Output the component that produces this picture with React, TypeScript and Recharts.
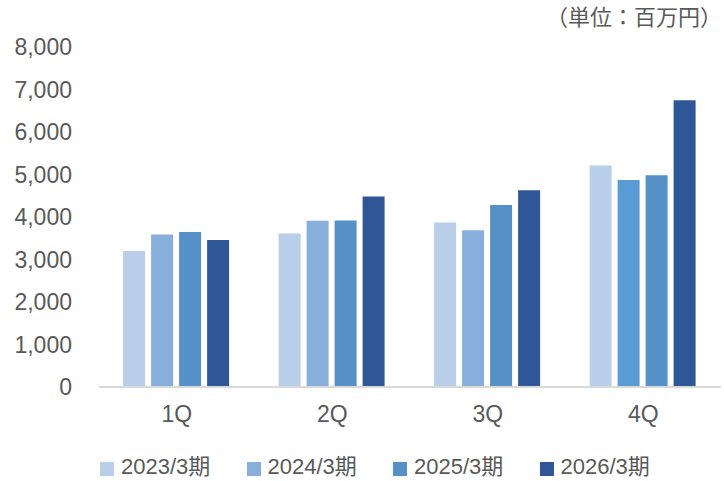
import { BarChart, Bar, XAxis, YAxis, Cell } from "recharts";

const TEXT = "#595959";
const FONT = "'Liberation Sans', Arial, 'Noto Sans CJK JP', sans-serif";

const quarters = ["1Q", "2Q", "3Q", "4Q"];
const fy2023 = [3200, 3610, 3870, 5210];
const fy2024 = [3590, 3910, 3690, 4870];
const fy2025 = [3650, 3920, 4280, 4980];
const fy2026 = [3460, 4480, 4630, 6750];
const yTicks = [0, 1000, 2000, 3000, 4000, 5000, 6000, 7000, 8000];

const series = [
  { key: "fy2023", name: "2023/3期", color: "#B9CEE8" },
  { key: "fy2024", name: "2024/3期", color: "#88AFDC" },
  { key: "fy2025", name: "2025/3期", color: "#5591C7" },
  { key: "fy2026", name: "2026/3期", color: "#2F5797" },
];

// the 4Q bar of 2024/3 is drawn in a brighter blue in the original
const fy2024Q4Color = "#5B9BD5";

const data = quarters.map((q, i) => ({
  quarter: q,
  fy2023: fy2023[i],
  fy2024: fy2024[i],
  fy2025: fy2025[i],
  fy2026: fy2026[i],
}));

export default function App() {
  return (
    <div
      style={{
        position: "absolute",
        left: 0,
        top: 0,
        width: 724,
        height: 481,
        background: "#fff",
        fontFamily: FONT,
      }}
    >
      <div
        style={{
          position: "absolute",
          right: 2,
          top: 4,
          fontSize: 22,
          lineHeight: "28px",
          color: TEXT,
          whiteSpace: "nowrap",
        }}
      >
        （単位：百万円）
      </div>
      <BarChart
        width={724}
        height={481}
        data={data}
        margin={{ top: 47, right: 3, left: 0, bottom: 54 }}
        barCategoryGap="15.5%"
        barGap={6}
      >
        <YAxis
          domain={[0, 8000]}
          ticks={yTicks}
          width={99}
          axisLine={false}
          tickLine={false}
          tickMargin={21}
          interval={0}
          tickFormatter={(v) => Number(v).toLocaleString("en-US")}
          tick={{ fill: TEXT, fontSize: 23, fontFamily: FONT }}
        />
        <XAxis
          dataKey="quarter"
          height={40}
          tickLine={false}
          tickMargin={13}
          axisLine={{ stroke: "#D9D9D9", strokeWidth: 2 }}
          tick={{ fill: TEXT, fontSize: 23, fontFamily: FONT }}
        />
        {series.map((s) => (
          <Bar
            key={s.key}
            dataKey={s.key}
            name={s.name}
            fill={s.color}
            isAnimationActive={false}
          >
            {s.key === "fy2024"
              ? quarters.map((q, i) => (
                  <Cell key={q} fill={i === 3 ? fy2024Q4Color : s.color} />
                ))
              : null}
          </Bar>
        ))}
      </BarChart>
      <div
        style={{
          position: "absolute",
          left: 100,
          top: 452,
          width: 620,
          height: 30,
          display: "flex",
          fontSize: 22,
          lineHeight: "28px",
          color: TEXT,
        }}
      >
        {series.map((s) => (
          <div
            key={s.key}
            style={{
              display: "flex",
              alignItems: "center",
              width: 146.5,
              flexShrink: 0,
            }}
          >
            <span
              style={{
                display: "inline-block",
                width: 14,
                height: 14,
                background: s.color,
                marginRight: 7,
                marginTop: 4,
                flexShrink: 0,
              }}
            />
            <span style={{ whiteSpace: "nowrap" }}>{s.name}</span>
          </div>
        ))}
      </div>
    </div>
  );
}
